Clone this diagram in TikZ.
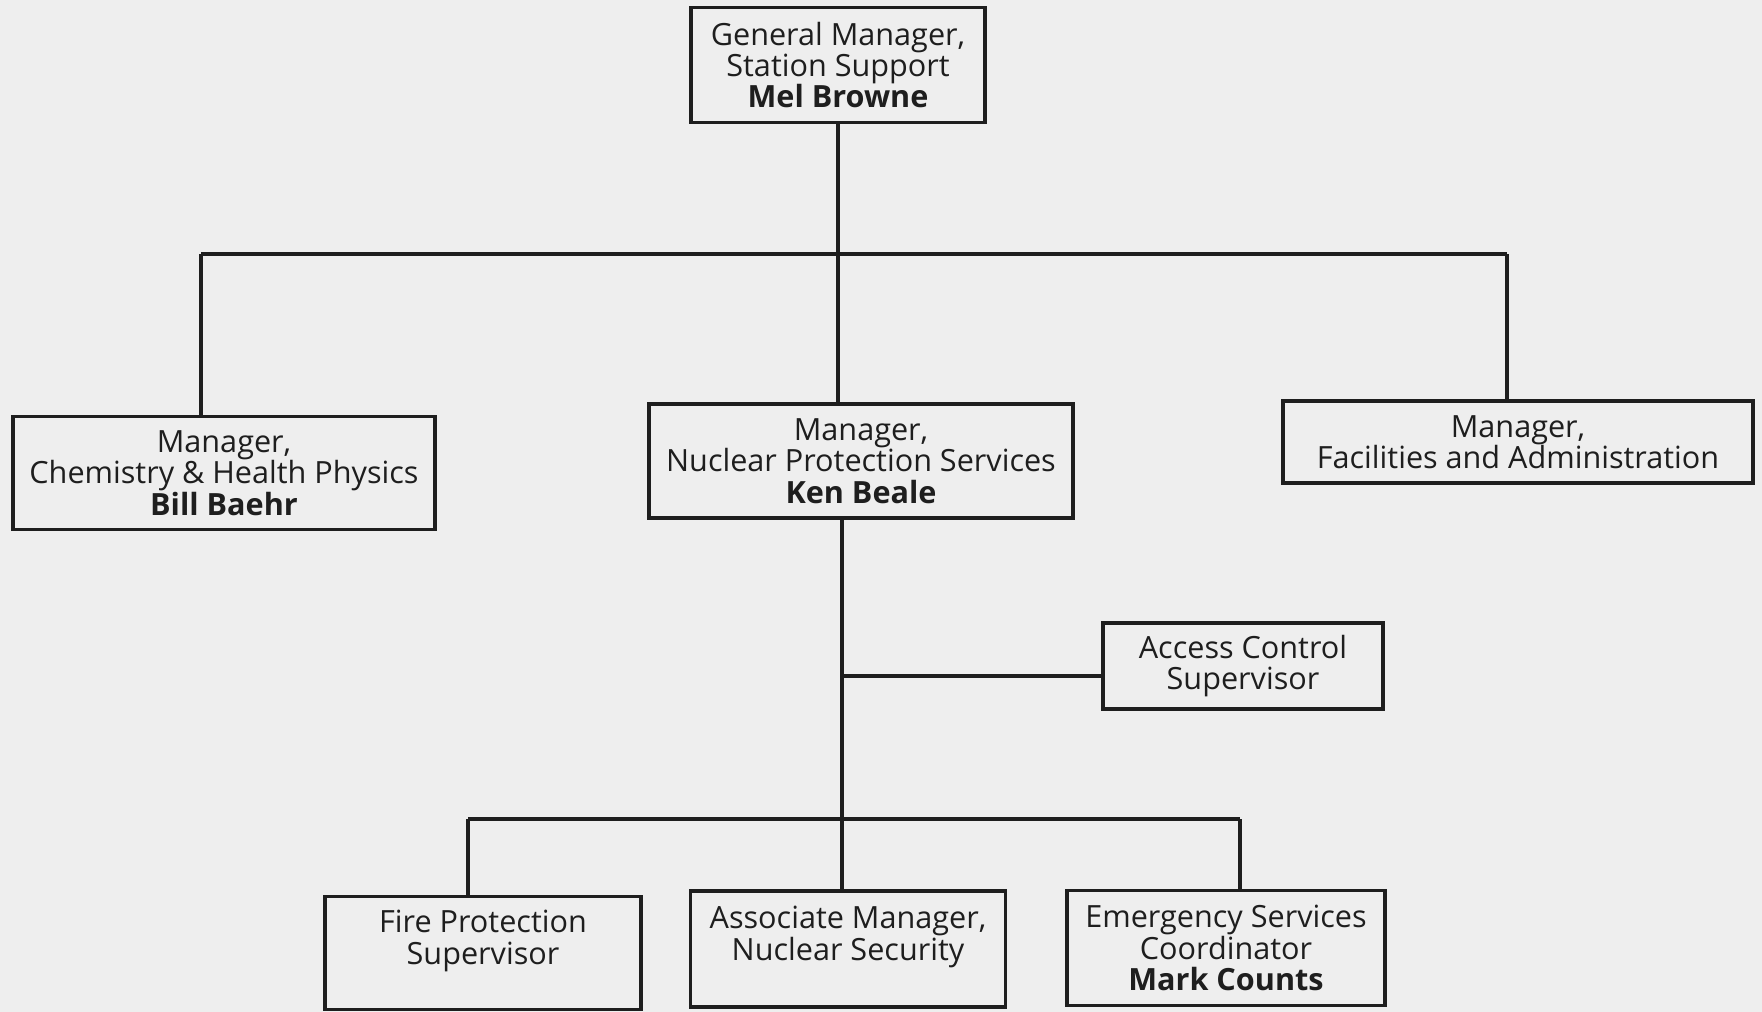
\documentclass[tikz,border=0pt]{standalone}
\usepackage{fontspec}
\setmainfont{Open Sans}
\usetikzlibrary{positioning}
\definecolor{paper}{HTML}{EEEEEE}
\definecolor{ink}{HTML}{1E1E1E}

\begin{document}
\begin{tikzpicture}[x=0.5pt,y=-0.5pt,
  unit/.style={draw=ink,line width=1.6pt,inner sep=0pt,align=center,text=ink,
    font=\fontsize{15.3}{15.7}\selectfont},
  wire/.style={draw=ink,line width=1.6pt}]
  \fill[paper] (0,0) rectangle (1762,1012);
  \useasboundingbox (0,0) rectangle (1762,1012);

  \node[unit,minimum width=147pt,minimum height=57.5pt] (gm) at (838,65) {General Manager,\\Station Support\\\textbf{Mel Browne}};
  \node[unit,minimum width=211pt,minimum height=56.5pt] (chem) at (224,473) {Manager,\\Chemistry \& Health Physics\\\textbf{Bill Baehr}};
  \node[unit,minimum width=212pt,minimum height=57pt] (nps) at (861,461) {Manager,\\Nuclear Protection Services\\\textbf{Ken Beale}};
  \node[unit,minimum width=235pt,minimum height=41pt] (fac) at (1518,442) {Manager,\\Facilities and Administration};
  \node[unit,minimum width=140pt,minimum height=43pt] (acs) at (1243,666) {Access Control\\Supervisor};
  \node[unit,minimum width=158pt,minimum height=56.5pt] (fire) at (483,953) {Fire Protection\\Supervisor\\\mbox{}};
  \node[unit,minimum width=157.5pt,minimum height=58pt] (assoc) at (848,949) {Associate Manager,\\Nuclear Security\\\mbox{}};
  \node[unit,minimum width=159pt,minimum height=57.5pt] (emerg) at (1226,948) {Emergency Services\\Coordinator\\\textbf{Mark Counts}};

  % top level bus
  \coordinate (hub) at (838,254);
  \coordinate (jc) at (201,254);
  \coordinate (jf) at (1507,254);
  \draw[wire] (gm.south) -- (hub);
  \draw[wire] (jc) -- (jf);
  \draw[wire] (jc) -- (jc |- chem.north);
  \draw[wire] (hub) -- (hub |- nps.north);
  \draw[wire] (jf) -- (jf |- fac.north);

  % under nuclear protection services
  \coordinate (ja) at (842,676);
  \coordinate (jb) at (842,819);
  \coordinate (jfire) at (468,819);
  \coordinate (jem) at (1240,819);
  \draw[wire] (ja |- nps.south) -- (jb);
  \draw[wire] (ja) -- (ja -| acs.west);
  \draw[wire] (jfire) -- (jem);
  \draw[wire] (jfire) -- (jfire |- fire.north);
  \draw[wire] (jb) -- (jb |- assoc.north);
  \draw[wire] (jem) -- (jem |- emerg.north);
\end{tikzpicture}
\end{document}
